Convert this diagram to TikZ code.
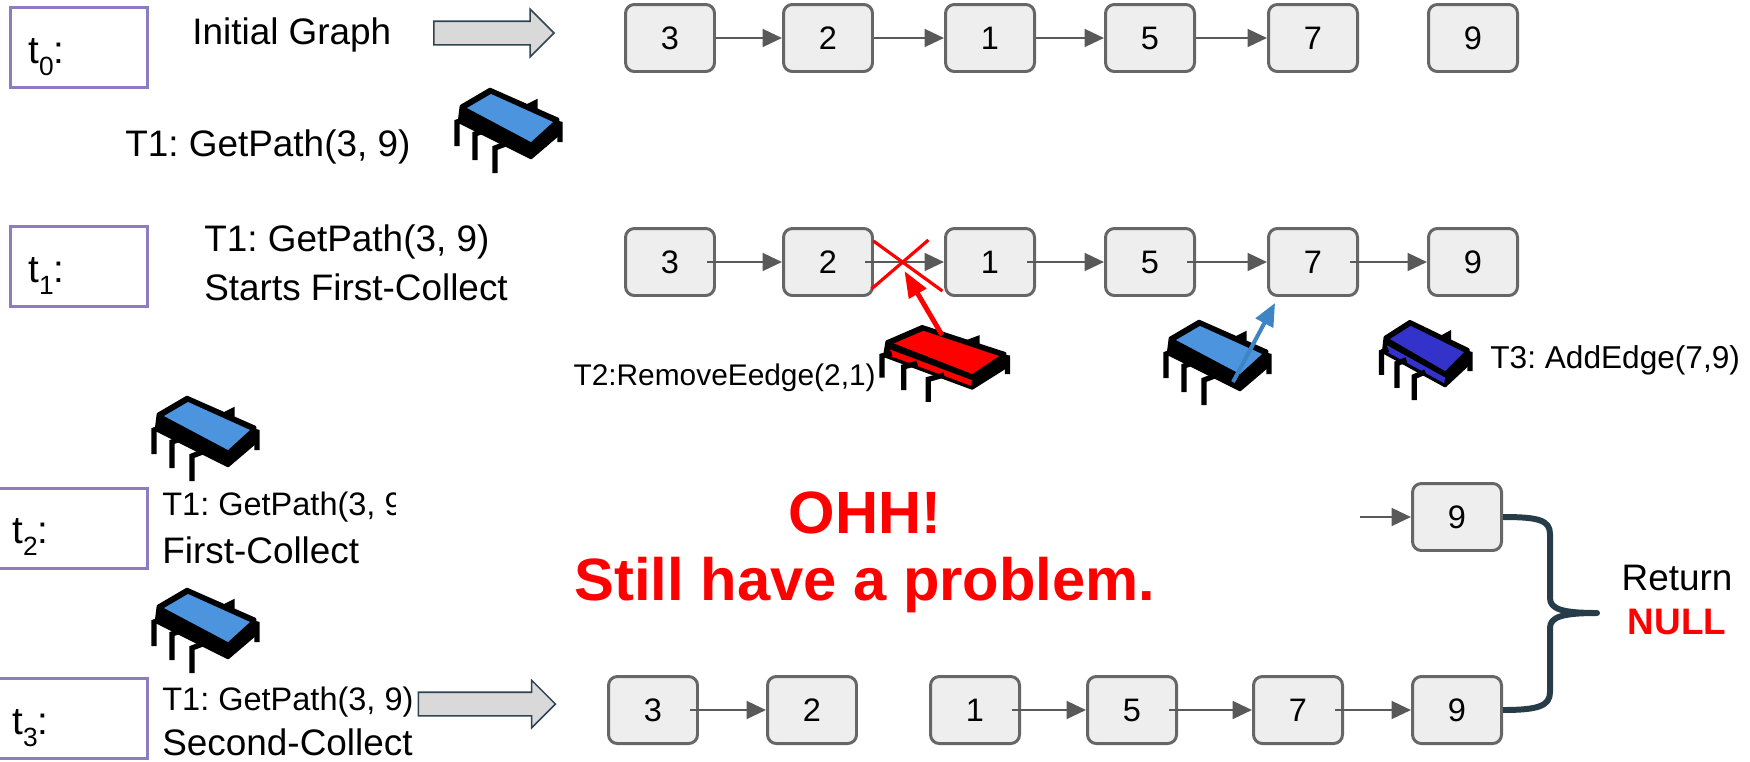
\documentclass[tikz,border=0pt]{standalone}
\usepackage{fontspec}
\setmainfont{Liberation Sans}
\usetikzlibrary{arrows.meta,shapes.arrows,calc}
\frenchspacing

\definecolor{gfill}{HTML}{EEEEEE}
\definecolor{gborder}{HTML}{666666}
\definecolor{gline}{HTML}{595959}
\definecolor{tframe}{HTML}{8E7CC3}
\definecolor{afill}{HTML}{D9D9D9}
\definecolor{aedge}{HTML}{2E4452}
\definecolor{bracecol}{HTML}{263C48}
\definecolor{chipblue}{HTML}{4D94DE}
\definecolor{chipdark}{HTML}{3333CC}
\definecolor{addblue}{HTML}{3D85C6}

% t with a lowered index and a colon
\newcommand{\tstep}[1]{t\raisebox{-7pt}{\fontsize{15pt}{15pt}\selectfont #1}:}

\tikzset{
  gnode/.style={draw=gborder, fill=gfill, rounded corners=5pt, line width=1.7pt,
    minimum width=1.78cm, minimum height=1.34cm, inner sep=0pt,
    font=\fontsize{18.5pt}{18.5pt}\selectfont},
  gedge/.style={draw=gline, line width=1.6pt, -{Triangle[length=11pt,width=10pt]}},
  inedge/.style={gedge, shorten <=-5pt},
  tbox/.style={draw=tframe, line width=1.6pt, anchor=north west,
    minimum width=2.74cm, minimum height=1.6cm},
  tlbl/.style={anchor=base west, inner sep=0pt, font=\fontsize{22pt}{22pt}\selectfont},
  txt/.style={anchor=west, inner sep=0pt, font=\fontsize{21pt}{28pt}\selectfont},
  smalltxt/.style={anchor=west, inner sep=0pt, font=\fontsize{18.5pt}{22pt}\selectfont},
  blockarrow/.style={single arrow, draw=aedge, fill=afill, line width=0.9pt,
    minimum height=2.74cm, minimum width=0.92cm, single arrow head extend=0.24cm,
    single arrow tip angle=90, inner xsep=0pt, inner ysep=0.22cm},
  chipleg/.style={line width=3pt, black},
  pics/chip/.style args={#1/#2}{code={
    % legs at the back
    \draw[chipleg] (72,16) -- (82,11) -- (82,24);
    \draw[chipleg] (98,30) -- (107,32) -- (107,50);
    % slab, side and top
    \filldraw[black, line width=1.5pt, line join=round]
      (8,14) -- (37,-3) -- (105,27) -- (105,43) -- (78,66) -- (6,30) -- cycle;
    \fill[#2] (11,23) -- (78,57) -- (77,63) -- (9,29) -- cycle;
    \fill[#1] (14,16) -- (38,2) -- (100,30) -- (78,50) -- cycle;
    % legs at the front
    \draw[chipleg] (12,27) -- (4,30) -- (4,54);
    \draw[chipleg] (33,38) -- (22,42) -- (22,68);
    \draw[chipleg] (55,51) -- (42,56) -- (42,81);
  }},
}

\begin{document}
\begin{tikzpicture}[x=0.02cm, y=-0.02cm]
\useasboundingbox (0,0) rectangle (1750,761);

% time steps
\node[tbox] (f0) at (9,6) {};
\node[tbox] (f1) at (9,225) {};
\node[tbox, minimum width=3.06cm] (f2) at (-7,487) {};
\node[tbox, minimum width=3.06cm] (f3) at (-7,677) {};
\node[tlbl] (l0) at (28,63) {\tstep{0}};
\node[tlbl] (l1) at (28,282) {\tstep{1}};
\node[tlbl] (l2) at (12,543) {\tstep{2}};
\node[tlbl] (l3) at (12,734) {\tstep{3}};

% t0
\node[txt] (init) at (192,35) {Initial Graph};
\node[blockarrow, minimum height=2.4cm] (arr0) at (488,33) {};
\node[txt] (get0) at (125,147) {T1: GetPath(3, 9)};

\node[gnode] (a3) at (670,38) {3};
\node[gnode] (a2) at (828,38) {2};
\node[gnode] (a1) at (990,38) {1};
\node[gnode] (a5) at (1150,38) {5};
\node[gnode] (a7) at (1313,38) {7};
\node[gnode] (a9) at (1473,38) {9};

\draw[gedge] (a3) -- (a2);
\draw[gedge] (a2) -- (a1);
\draw[gedge] (a1) -- (a5);
\draw[gedge] (a5) -- (a7);

% t1
\node[txt, align=left] (get1) at (204,263) {T1: GetPath(3, 9)\\Starts First-Collect};

\node[gnode] (b3) at (670,262) {3};
\node[gnode] (b2) at (828,262) {2};
\node[gnode] (b1) at (990,262) {1};
\node[gnode] (b5) at (1150,262) {5};
\node[gnode] (b7) at (1313,262) {7};
\node[gnode] (b9) at (1473,262) {9};

\draw[inedge] (b3) -- (b2);
\draw[inedge] (b2) -- (b1);
\draw[inedge] (b1) -- (b5);
\draw[inedge] (b5) -- (b7);
\draw[inedge] (b7) -- (b9);

\coordinate (cut) at ($(b2.east)!0.42!(b1.west)$);
\draw[red, line width=1.8pt] ([shift={(-30,-21)}]cut) -- ([shift={(39,29)}]cut);
\draw[red, line width=1.8pt] ([shift={(25,-22)}]cut) -- ([shift={(-32,27)}]cut);

\node[smalltxt, anchor=east, font=\fontsize{17pt}{20pt}\selectfont] (rm) at (876,378) {T2:RemoveEedge(2,1)};
\node[smalltxt, font=\fontsize{18pt}{20pt}\selectfont] (add) at (1490,360) {T3: AddEdge(7,9)};

% t2
\begin{scope}
  \clip (150,485) rectangle (395,530);
  \node[smalltxt] (get2) at (162,507) {T1: GetPath(3, 9)};
\end{scope}
\node[txt] (fc) at (162,550) {First-Collect};

\node[gnode] (u9) at (1457,517) {9};
\coordinate (u9in) at (1360,517);
\draw[gedge] (u9in) -- (u9);

\node[align=center, text=red, inner sep=0pt,
  font=\fontsize{34pt}{38pt}\selectfont\bfseries] (ohh) at (865,552) {OHH!\\Still have a problem.};

% t3
\node[smalltxt] (get3) at (162,702) {T1: GetPath(3, 9)};
\node[txt] (sc) at (162,742) {Second-Collect};
\node[blockarrow] (arr3) at (481,704) {};

\node[gnode] (c3) at (653,710) {3};
\node[gnode] (c2) at (812,710) {2};
\node[gnode] (c1) at (975,710) {1};
\node[gnode] (c5) at (1132,710) {5};
\node[gnode] (c7) at (1298,710) {7};
\node[gnode] (c9) at (1457,710) {9};

\draw[inedge] (c3) -- (c2);
\draw[inedge] (c1) -- (c5);
\draw[inedge] (c5) -- (c7);
\draw[inedge] (c7) -- (c9);

% both 9s give the same answer
\coordinate (brtip) at (1597,613);
\draw[bracecol, line width=3.4pt, line join=round]
  (u9.east) .. controls (1538,517) and (1550,520) .. (1550,534) -- (1550,598)
  .. controls (1550,609) and (1562,613) .. (brtip)
  .. controls (1562,613) and (1550,617) .. (1550,628) -- (1550,692)
  .. controls (1550,706) and (1538,710) .. (c9.east);
\node[align=center, inner sep=0pt, font=\fontsize{21pt}{25pt}\selectfont] (ret) at (1677,600)
  {Return\\\textcolor{red}{\bfseries NULL}};

% threads
\pic[shift={(453,92)}] {chip=chipblue/black};
\pic[shift={(150,400)}] {chip=chipblue/black};
\pic[shift={(150,592)}] {chip=chipblue/black};
\pic[shift={(1162,324)}] {chip=chipblue/black};
\pic[shift={(877,329)}, xscale=1.22, yscale=0.9] {chip=red/red};
\pic[shift={(1378,324)}, xscale=0.86, yscale=0.94] {chip=chipdark/chipdark};

\coordinate (rmtail) at (942,335);
\draw[red, line width=2.8pt, -{Triangle[length=15pt,width=11pt]}] (rmtail) -- ([shift={(1,9)}]cut);
\coordinate (addtail) at (1233,382);
\draw[addblue, line width=2.3pt, -{Triangle[length=13pt,width=11pt]}] (addtail) -- ([shift={(8,6)}]b7.south west);
\end{tikzpicture}
\end{document}
